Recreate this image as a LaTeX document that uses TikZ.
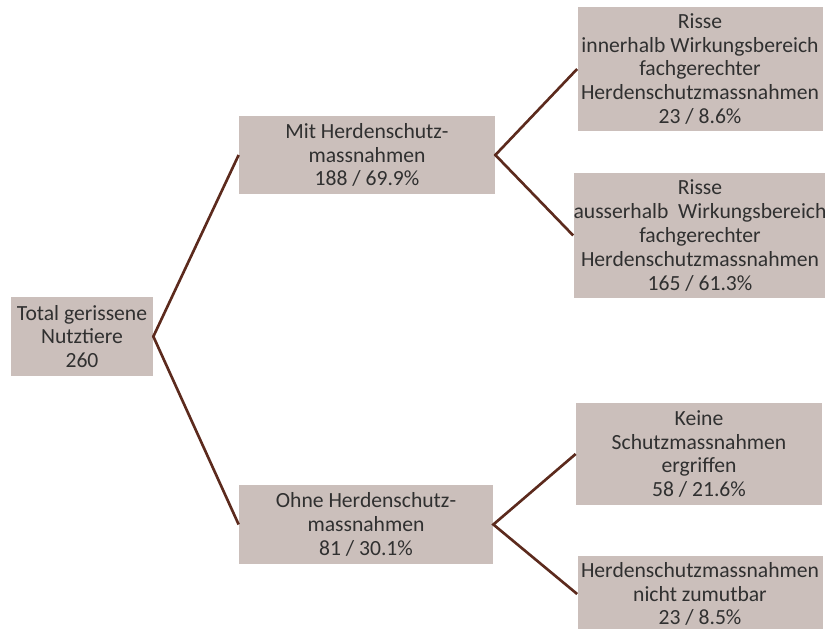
\documentclass[tikz,border=0pt]{standalone}
\usepackage{fontspec}
\setmainfont{Carlito}
\usepackage{tikz}
\definecolor{boxfill}{HTML}{CBBFBB}
\definecolor{linkbrown}{HTML}{5C2A1D}
\definecolor{boxtext}{HTML}{303030}
\tikzset{
	box/.style={fill=boxfill, text=boxtext, align=center, inner sep=0pt,
		font=\fontsize{12.3}{13.6}\selectfont},
	link/.style={draw=linkbrown, line width=1.5pt}
}

\begin{document}
\begin{tikzpicture}
			%%%%% START %%%%%
			
			\useasboundingbox (0, 0) rectangle (16.5, 12.58);
			
			\node[box, minimum width=2.84cm, minimum height=1.58cm] (total) at (1.64, 5.85) {Total gerissene\\Nutztiere\\260};
			
			\node[box, minimum width=5.12cm, minimum height=1.56cm] (mit) at (7.34, 9.48) {Mit Herdenschutz-\\massnahmen\\188 / 69.9\%};
			\node[box, minimum width=5.08cm, minimum height=1.58cm] (ohne) at (7.32, 2.09) {Ohne Herdenschutz-\\massnahmen\\81 / 30.1\%};
			
			\node[box, minimum width=4.9cm, minimum height=2.48cm] (innerhalb) at (14.0, 11.2) {Risse\\innerhalb Wirkungsbereich\\fachgerechter\\Herdenschutzmassnahmen\\23 / 8.6\%};
			\node[box, minimum width=4.9cm, minimum height=2.5cm] (ausserhalb) at (14.0, 7.87) {Risse\\ausserhalb\ \ Wirkungsbereich\\fachgerechter\\Herdenschutzmassnahmen\\165 / 61.3\%};
			
			\node[box, minimum width=4.92cm, minimum height=2.04cm] (keine) at (13.98, 3.5) {Keine\\Schutzmassnahmen\\ergriffen\\58 / 21.6\%};
			\node[box, minimum width=4.9cm, minimum height=1.52cm] (zumutbar) at (14.0, 0.7) {Herdenschutzmassnahmen\\nicht zumutbar\\23 / 8.5\%};
			
			\draw[link] (mit.west) -- (total.east) -- (ohne.west);
			\draw[link] (innerhalb.west) -- (mit.east) -- (ausserhalb.west);
			\draw[link] (keine.west) -- (ohne.east) -- (zumutbar.west);
			
			%%%%% END %%%%%
		\end{tikzpicture}
\end{document}
